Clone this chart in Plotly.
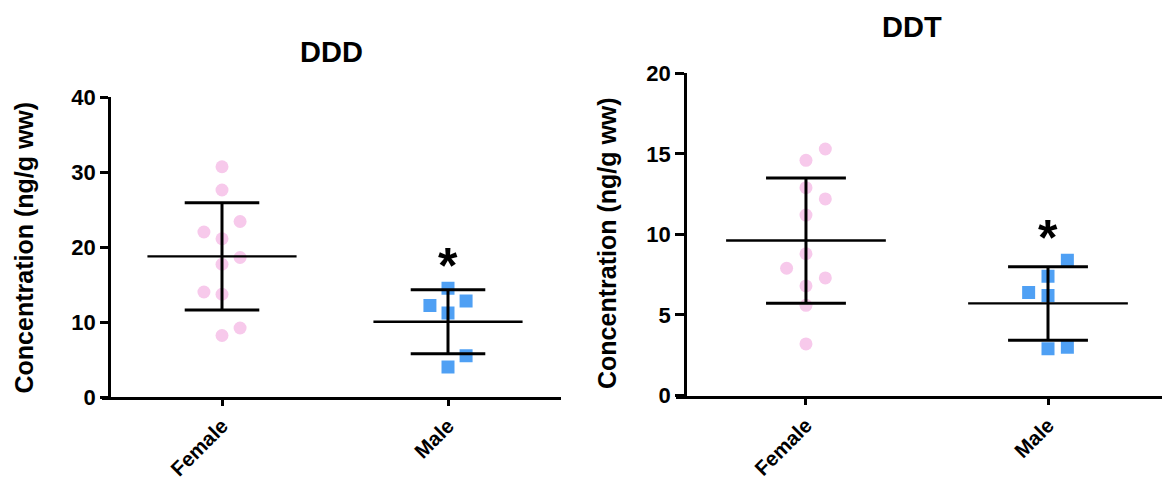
import numpy as np
import plotly.graph_objects as go

# ---------------- data ----------------
groups = ["Female", "Male"]
ddd_female = [30.7, 27.6, 23.4, 22.0, 21.1, 18.6, 17.7, 14.0, 13.7, 9.2, 8.2]
ddd_male = [14.5, 12.2, 12.8, 11.2, 5.5, 4.0]
ddt_female = [15.3, 14.6, 12.9, 12.2, 11.2, 8.8, 7.9, 7.3, 6.8, 5.6, 3.2]
ddt_male = [8.4, 7.4, 6.4, 6.2, 2.9, 3.0]
ddd_ticks = [0, 10, 20, 30, 40]
ddt_ticks = [0, 5, 10, 15, 20]
titles = ["DDD", "DDT"]
y_title = "Concentration (ng/g ww)"

# scatter column (jitter) index of each point
ddd_female_col = [0, 0, 1, -1, 0, 1, 0, -1, 0, 1, 0]
ddd_male_col = [0, -1, 1, 0, 1, 0]
ddt_female_col = [1, 0, 0, 1, 0, 0, -1, 1, 0, 0, 0]
ddt_male_col = [1, 0, -1, 0, 0, 1]

# ---------------- style ----------------
FONT = "Liberation Sans, Arial, sans-serif"
PINK = "#F7C9EB"
BLUE = "#4FA0F4"
JIT = 0.08
MEAN_HALF = 0.33
CAP_HALF = 0.165
W, H = 1162, 481

fig = go.Figure()


def add_panel(xa, ya, fvals, mvals, fcol, mcol):
    fig.add_trace(go.Scatter(
        x=[0 + JIT * c for c in fcol], y=fvals, mode="markers",
        marker=dict(symbol="circle", size=13, color=PINK),
        xaxis=xa, yaxis=ya, showlegend=False, hoverinfo="y"))
    fig.add_trace(go.Scatter(
        x=[1 + JIT * c for c in mcol], y=mvals, mode="markers",
        marker=dict(symbol="square", size=13, color=BLUE),
        xaxis=xa, yaxis=ya, showlegend=False, hoverinfo="y"))
    mx, my, ex, ey = [], [], [], []
    for c, vals in enumerate([fvals, mvals]):
        m = float(np.mean(vals))
        sd = float(np.std(vals, ddof=1))
        mx += [c - MEAN_HALF, c + MEAN_HALF, None]
        my += [m, m, None]
        ex += [c, c, None, c - CAP_HALF, c + CAP_HALF, None, c - CAP_HALF, c + CAP_HALF, None]
        ey += [m - sd, m + sd, None, m + sd, m + sd, None, m - sd, m - sd, None]
    fig.add_trace(go.Scatter(x=mx, y=my, mode="lines",
                             line=dict(color="black", width=2.4),
                             xaxis=xa, yaxis=ya, showlegend=False, hoverinfo="skip"))
    fig.add_trace(go.Scatter(x=ex, y=ey, mode="lines",
                             line=dict(color="black", width=3),
                             xaxis=xa, yaxis=ya, showlegend=False, hoverinfo="skip"))


add_panel("x", "y", ddd_female, ddd_male, ddd_female_col, ddd_male_col)
add_panel("x2", "y2", ddt_female, ddt_male, ddt_female_col, ddt_male_col)

ytickfont = dict(family=FONT, size=22, color="black", weight="bold")
xtickfont = dict(family=FONT, size=20.5, color="black", weight="bold")
common_x = dict(tickmode="array", tickvals=[0, 1], ticktext=groups, tickangle=-45,
                showline=True, linecolor="black", linewidth=2.8, ticks="outside",
                ticklen=7, tickwidth=2.5, tickcolor="black", showgrid=False,
                zeroline=False, tickfont=xtickfont, automargin=False)
common_y = dict(showline=True, linecolor="black", linewidth=2.8, ticks="outside",
                ticklen=8, tickwidth=2.5, tickcolor="black", showgrid=False,
                zeroline=False, tickfont=ytickfont, tickmode="array",
                ticklabelstandoff=0, automargin=False, anchor="free")

fig.update_layout(
    width=W, height=H,
    margin=dict(l=0, r=0, t=0, b=0, pad=0, autoexpand=False),
    paper_bgcolor="white", plot_bgcolor="white",
    xaxis=dict(common_x, domain=[102 / W, 561 / W], range=[-0.531, 1.5], anchor="y",
               ticklen=6),
    yaxis=dict(common_y, domain=[(H - 397) / H, (H - 97) / H], range=[0, 40],
               tickvals=ddd_ticks, position=109 / W),
    xaxis2=dict(common_x, domain=[676 / W, 1.0], range=[-0.537, 1.471], anchor="y2"),
    yaxis2=dict(common_y, domain=[(H - 395.5) / H, (H - 73.3) / H], range=[0, 20],
                tickvals=ddt_ticks, position=685 / W, ticklen=9),
)

title_font = dict(family=FONT, size=29, color="black", weight="bold")
fig.add_annotation(text=titles[0], x=331 / W, y=(H - 52) / H, xref="paper", yref="paper",
                   showarrow=False, font=title_font, xanchor="center", yanchor="middle")
fig.add_annotation(text=titles[1], x=912 / W, y=(H - 27) / H, xref="paper", yref="paper",
                   showarrow=False, font=title_font, xanchor="center", yanchor="middle")
ytf = dict(family=FONT, size=25, color="black", weight="bold")
fig.add_annotation(text=y_title, x=23 / W, y=(H - 247.5) / H, xref="paper", yref="paper",
                   textangle=-90, showarrow=False, font=ytf,
                   xanchor="center", yanchor="middle")
fig.add_annotation(text=y_title, x=607 / W, y=(H - 243) / H, xref="paper", yref="paper",
                   textangle=-90, showarrow=False, font=ytf,
                   xanchor="center", yanchor="middle")

star_font = dict(family=FONT, size=50, color="black", weight="bold")
fig.add_annotation(text="*", x=1, y=max(ddd_male), xref="x", yref="y", showarrow=False,
                   font=star_font, xanchor="center", yanchor="bottom", yshift=-8)
fig.add_annotation(text="*", x=1, y=max(ddt_male), xref="x2", yref="y2", showarrow=False,
                   font=star_font, xanchor="center", yanchor="bottom", yshift=-8)

fig.write_html("out.html")
